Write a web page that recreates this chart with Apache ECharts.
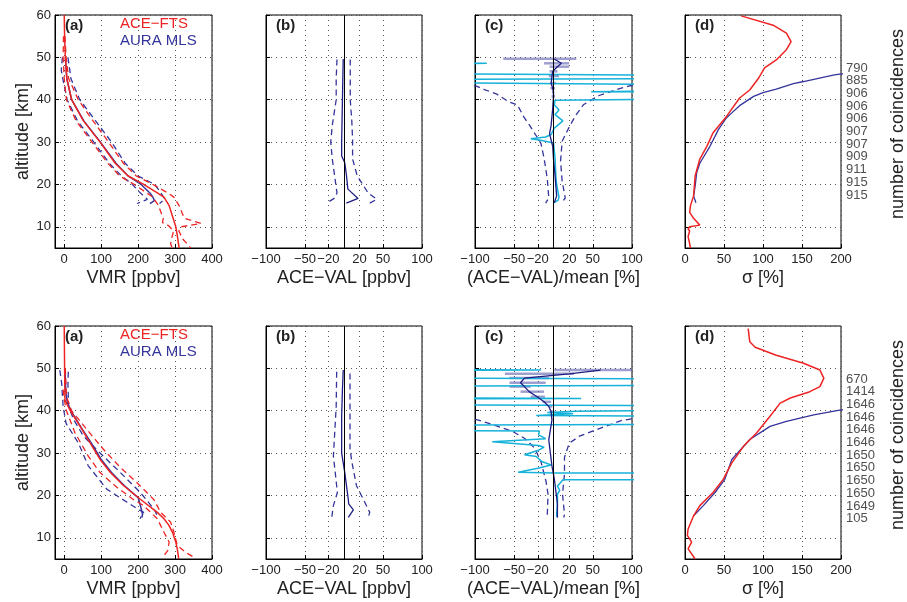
<!DOCTYPE html>
<html><head><meta charset="utf-8">
<script src="https://cdn.jsdelivr.net/npm/echarts@6/dist/echarts.min.js"></script>
<style>html,body{margin:0;padding:0;background:#fff}#c{width:907px;height:602px}</style>
</head><body><div id="c"></div>
<script>
// ---------- tick labels ----------
const altTicks = [10, 20, 30, 40, 50, 60];
const vmrTicks = [0, 100, 200, 300, 400];
const diffTicks = [-100, -50, -20, 20, 50, 100];
const sigmaTicks = [0, 50, 100, 150, 200];

// ---------- number of coincidences ----------
const coincAltTop = [47.5, 44.5, 41.5, 38.5, 35.5, 32.5, 29.5, 26.5, 23.5, 20.5, 17.5];
const coincTop = ['790', '885', '906', '906', '906', '907', '907', '909', '911', '915', '915'];
const coincAltBot = [47.5, 44.5, 41.5, 38.5, 35.5, 32.5, 29.5, 26.5, 23.5, 20.5, 17.5, 14.5];
const coincBot = ['670', '1414', '1646', '1646', '1646', '1646', '1650', '1650', '1650', '1650', '1649', '105'];

// ---------- TOP ROW : [value, altitude] ----------
// (a) VMR
const topAceMean = [[0,60],[1,55],[3,50],[7,45],[20,40],[52,35],[97,30],[138,25],[173,22],[215,20],[252,18],[270,17],[284,15],[293,12.5],[302,10],[306,8],[311,5]];
const topAceLo = [[-2,55],[-3,50],[0,45],[6,40],[32,35],[75,30],[118,25],[150,22],[190,20],[240,17],[255,15],[268,12],[266,11],[282,10.3],[296,9],[290,7],[288,6],[292,5]];
const topAceHi = [[2,55],[5,50],[12,45],[38,40],[78,35],[120,30],[160,25],[195,22],[240,20],[280,18],[297,17],[311,15],[325,12],[370,10.8],[316,10],[310,9],[322,7],[338,5.5],[342,5]];
const topMlsMean = [[3,50],[7,45],[20,40],[53,35],[98,30],[140,25],[173,22],[208,20],[232,18],[240,17],[244,16.2],[232,15.5]];
const topMlsLo = [[-5,50],[-8,47],[-4,45],[8,40],[36,35],[80,30],[122,25],[155,22],[185,20],[200,18.5],[225,16.5],[197,15.5]];
const topMlsHi = [[10,50],[15,47],[18,45],[42,40],[85,35],[128,30],[165,25],[200,22],[245,20],[262,18],[272,16.5],[258,15.5]];
// (b) ACE-VAL
const topDiff = [[-1,49.6],[-1.5,45],[-2,40],[-2.5,35],[-3,30],[-3,26.7],[1,25.1],[3,22.4],[5,18.9],[18,16.7],[3,15.6]];
const topDiffLo = [[-9,49.5],[-10,45],[-10,40],[-15,34],[-17,30],[-15,26],[-12,22],[-9,18],[-12,16.8],[-22,15.6]];
const topDiffHi = [[8,49.5],[8,45],[8,40],[10,35],[11,30.6],[11,26],[17,22],[31,18],[42,16.5],[33,15.6]];
// (c) relative difference
const topRel = [[1,49.6],[10,48.6],[5,47.8],[-1,46.7],[-2,45.5],[-3,43.9],[-1,42.7],[0,41.7],[0,40.8],[-1,38],[-2,36],[-3,34],[-5,32],[-3,30.5],[-1,29],[0,26],[2,22],[3,19.6],[4,17.3],[1,15.7]];
const topRelErr = [[49.65,-64,29],[48.6,-12,20],[47.8,-5,20],[46.7,-5,5],[45.6,-6,7],[43.9,-4,3],[42.7,-4,2],[41.7,-2,1],[40.8,-2.5,2]];
const topRelAlt = [[-300,49.0],[-85,48.6],[-300,48.2],[-300,46.3],[300,45.6],[300,45.1],[-300,44.7],[-300,44.2],[300,43.4],[300,42.3],[48,41.9],[300,41.6],[300,40.3],[2,39.9],[1,38.8],[7,37.6],[2,36.5],[12,35.0],[1,33.3],[-3,31.8],[-10,31.2],[-29,30.8],[-18,30.5],[0,29.8],[1,28],[2,26],[3,22],[4,20],[7,17],[6,16.3],[1,15.7]];
const topRelLo = [[-250,49.5],[-160,45],[-98,43.2],[-88,42.4],[-73,41.4],[-57,39.5],[-46,38.8],[-38,36],[-31,34.1],[-22,31.5],[-16,29.7],[-12,26.2],[-8,21.5],[-6,16.8],[-10,15.6]];
const topRelHi = [[250,49.5],[160,45],[98,43.3],[82,42.5],[58,41],[47,39.8],[38,38.8],[29,36.5],[21.5,34.1],[11,30.2],[9,25.5],[11,20.8],[15,16.8],[10,15.6]];
// (d) sigma
const topAceSig = [[72,59.8],[113,57.6],[130,55.7],[136,53.7],[130,51.8],[117,49.4],[102,47.5],[94,45],[83,42.3],[70,40.4],[53,36],[36,32.2],[28,29],[19,26],[13,22],[11,17.3],[7,15],[6,13.4],[11,12],[19,10.4],[6,10],[4,9.5],[6,9],[4,7.7],[6,6],[7,5]];
const topMlsSig = [[260,46.6],[200,46.1],[190,45.8],[152,44.3],[139,43.8],[117,42.5],[100,41.7],[88,40.8],[70,38.6],[60,36.9],[53,35.7],[43,33],[32,29],[19,25],[15,22.8],[13,19.6],[11,17.3],[14,15.7]];

// ---------- BOTTOM ROW ----------
const botAceMean = [[0,60],[1,50],[2,42.6],[15,40.2],[43,36.3],[70,32.4],[97,28.5],[125,25.4],[161,22.3],[206,19.1],[252,16],[270,14.5],[283,13],[293,11.3],[302,9],[306,7.4],[310,5]];
const botAceLo = [[-3,45],[0,42.6],[6,40],[29,34.8],[65,29.3],[97,25.4],[143,21.9],[188,19],[215,17.6],[252,14.5],[270,11.3],[284,9],[280,7],[265,5.2]];
const botAceHi = [[3,50],[6,43.4],[20,40],[61,35.6],[106,30.9],[152,26.6],[197,23],[243,19],[261,16],[288,13.7],[297,11.3],[306,8.2],[330,6.5],[355,5.2]];
const botMlsMean = [[2,50],[4,45],[8,42],[18,40],[46,36],[73,32.4],[100,28.5],[128,25.4],[163,22.3],[200,19.5],[208,17],[212,15.5],[210,14.8]];
const botMlsLo = [[-12,49.6],[-7,46.5],[-3,41],[5,37],[38,32.4],[65,27],[115,21.5],[170,18.4],[195,17],[215,16],[205,14.5]];
const botMlsHi = [[11,49.2],[10,46],[12,41],[25,38],[52,34],[97,30],[152,25.4],[206,20.7],[243,16.8],[250,15.6],[240,14.8]];
const botDiff = [[-1,49.6],[-2,45],[-3,38.7],[-3,30],[1,25.4],[5.5,19.1],[6,18],[12,16.6],[5.5,14.8]];
const botDiffLo = [[-9.4,49.2],[-10,41],[-13.6,29.3],[-11,25],[-8.5,20.7],[-13.6,17.6],[-15.7,14.8]];
const botDiffHi = [[7.7,48.8],[7.7,40],[7.7,31],[10,28],[16,22.3],[24.7,19.1],[33,16],[31,14.8]];
const botRel = [[60,49.6],[20,48.7],[-37,47.7],[-42,46.6],[-37,45.7],[-31,44.5],[-21,43.3],[-12,42.1],[-6,41],[-3,39.8],[-2,37.8],[-4,35.5],[-6,33.1],[-4,30],[-2,27],[1,24],[3,21],[5,18],[5,14.8]];
const botRelErr = [[49.6,1,100],[48.7,-62,26],[47.7,-56,-6],[46.6,-56,-10],[45.7,-56,-29],[44.5,-42,-12],[43.3,-29,-11],[42.1,-14,-3],[41,-6,-1.5],[39.8,-5,1]];
const botRelAlt = [[-400,49.8],[-16,49.6],[-400,49.4],[-400,47.9],[400,47.3],[400,46.2],[-400,45.6],[-400,43.3],[35,42.9],[-400,42.6],[-400,41.6],[400,41.0],[400,40.3],[30,39.9],[-8,39.6],[25,39.3],[-22,38.9],[400,38.5],[400,37.0],[-400,36.4],[-400,35.6],[-18,35.2],[-19,34.3],[-10,33.4],[-78,32.7],[-19,31.8],[-12,31.4],[-20,30.6],[-37,29.6],[-22,29.2],[-15,28.0],[-3,27.2],[-20,26.4],[-45,25.5],[1,25.3],[400,25.2],[400,23.8],[12,23.7],[8,22.8],[5,22.2],[8,21.2],[5,20.3],[5,18],[4,15.3],[5,14.8]];
const botRelLo = [[-300,45],[-150,40],[-98,37.9],[-77,36.7],[-53,35.2],[-37,33.5],[-24,31.2],[-16,28],[-9.5,23.3],[-7,20.3],[-8,14.8]];
const botRelHi = [[300,45],[150,39.5],[87,37.7],[60,35.9],[33,34],[20,32.3],[14,29],[14,25],[11.5,20.3],[14,15.5],[13,14.8]];
const botAceSig = [[81,59.4],[83,56.3],[90,55],[117,53.1],[152,51.2],[173,49.6],[178,47.7],[173,45.7],[160,44.5],[135,43],[122,41.8],[109,38.7],[92,34.8],[75,31.6],[60,27.7],[49,23.8],[36,20.7],[19,17.6],[11,15.2],[4,12.1],[3,10.6],[8.5,9],[4,7.4],[13,5]];
const botMlsSig = [[260,40.6],[200,40.2],[165,39],[130,37.5],[109,36.3],[83,33.2],[60,28.5],[51,23.8],[38.5,20.7],[23.5,17.6],[11,15.2]];

// ---------- styling ----------
const FONT = '"Liberation Sans", Arial, Helvetica, sans-serif';
const RED = '#ee2424', BLUE = '#34349c', NAVY = '#1e1e84', CYAN = '#16b2da', ERR = 'rgba(95,95,175,0.6)';
const TXT = '#222';
const rowTop = [15, 326];
const colLeft = [55, 266, 475, 685];
const colW = [157, 156, 157, 156];
const panelH = 233;
const fmtMinus = v => (v < 0 ? '\u2212' + Math.abs(v) : String(v));

const grids = [], xAxes = [], yAxes = [];
const xCfg = [
  {min: -25, max: 400, ticks: vmrTicks, name: 'VMR [ppbv]'},
  {min: -100, max: 100, ticks: diffTicks, name: 'ACE\u2212VAL [ppbv]'},
  {min: -100, max: 100, ticks: diffTicks, name: '(ACE\u2212VAL)/mean [%]'},
  {min: 0, max: 200, ticks: sigmaTicks, name: '\u03c3 [%]'}
];
const dotted = {show: true, lineStyle: {color: '#555', width: 1, type: [1, 4]}};
for (let r = 0; r < 2; r++) {
  for (let c = 0; c < 4; c++) {
    const gi = r * 4 + c;
    grids.push({left: colLeft[c], top: rowTop[r], width: colW[c], height: panelH,
      show: true, borderColor: '#000', borderWidth: 1, containLabel: false, outerBoundsMode: 'none'});
    const xc = xCfg[c];
    xAxes.push({gridIndex: gi, type: 'value', min: xc.min, max: xc.max,
      name: xc.name, nameLocation: 'middle', nameGap: 21,
      nameTextStyle: {fontSize: 18, color: TXT, fontFamily: FONT},
      axisLine: {show: true, onZero: false, lineStyle: {color: '#000', width: 1}},
      axisTick: {show: true, inside: true, length: 4, customValues: xc.ticks, lineStyle: {color: '#000'}},
      axisLabel: {customValues: xc.ticks, formatter: fmtMinus, fontSize: 13, color: TXT, fontFamily: FONT, margin: 5},
      splitLine: dotted});
    yAxes.push({gridIndex: gi, type: 'value', min: 5, max: 60,
      name: c === 0 ? 'altitude [km]' : '', nameLocation: 'middle', nameGap: 23,
      nameTextStyle: {fontSize: 18, color: TXT, fontFamily: FONT},
      axisLine: {show: true, onZero: false, lineStyle: {color: '#000', width: 1}},
      axisTick: {show: true, inside: true, length: 4, customValues: altTicks, lineStyle: {color: '#000'}},
      axisLabel: {show: c === 0, customValues: altTicks, fontSize: 13, color: TXT, fontFamily: FONT, margin: 4},
      splitLine: dotted});
  }
}

const series = [];
function line(i, data, color, dashed, width, extra) {
  const s = {type: 'line', xAxisIndex: i, yAxisIndex: i, data: data, showSymbol: false, symbol: 'none',
    clip: true, silent: true, lineStyle: {color: color, width: width || 1.3, type: dashed ? [6, 4] : 'solid'}};
  if (extra) Object.assign(s, extra);
  series.push(s);
}
const zeroLine = {markLine: {silent: true, symbol: ['none', 'none'], label: {show: false},
  lineStyle: {color: '#000', type: 'solid', width: 1}, data: [{xAxis: 0}]}};
function errBars(i, data) {
  series.push({type: 'custom', xAxisIndex: i, yAxisIndex: i, data: data, silent: true, clip: true,
    encode: {x: [1, 2], y: 0},
    renderItem: function (params, api) {
      const a = api.coord([api.value(1), api.value(0)]);
      const b = api.coord([api.value(2), api.value(0)]);
      return {type: 'line', shape: {x1: a[0], y1: a[1], x2: b[0], y2: b[1]}, style: {stroke: ERR, lineWidth: 2.5}};
    }});
}
function coinc(i, alts, labels) {
  series.push({type: 'scatter', xAxisIndex: i, yAxisIndex: i, symbolSize: 0, clip: false, silent: true,
    data: alts.map((a, k) => ({value: [200, a], name: labels[k]})),
    label: {show: true, position: 'right', distance: 5, formatter: '{b}', fontSize: 13, color: TXT, fontFamily: FONT}});
}

const rows = [
  {a: [topAceMean, topAceLo, topAceHi, topMlsMean, topMlsLo, topMlsHi],
   b: [topDiff, topDiffLo, topDiffHi],
   c: [topRel, topRelErr, topRelAlt, topRelLo, topRelHi],
   d: [topAceSig, topMlsSig], ca: coincAltTop, cl: coincTop},
  {a: [botAceMean, botAceLo, botAceHi, botMlsMean, botMlsLo, botMlsHi],
   b: [botDiff, botDiffLo, botDiffHi],
   c: [botRel, botRelErr, botRelAlt, botRelLo, botRelHi],
   d: [botAceSig, botMlsSig], ca: coincAltBot, cl: coincBot}
];
rows.forEach((R, r) => {
  const o = r * 4;
  // (a)
  line(o, R.a[4], BLUE, true);
  line(o, R.a[5], BLUE, true);
  line(o, R.a[3], BLUE, false, 1.5);
  line(o, R.a[1], RED, true);
  line(o, R.a[2], RED, true);
  line(o, R.a[0], RED, false, 1.5);
  // (b)
  line(o + 1, R.b[1], BLUE, true, 1.3, zeroLine);
  line(o + 1, R.b[2], BLUE, true);
  line(o + 1, R.b[0], NAVY, false, 1.3);
  // (c)
  line(o + 2, R.c[3], BLUE, true, 1.3, zeroLine);
  line(o + 2, R.c[4], BLUE, true);
  line(o + 2, R.c[2], CYAN, false, 1.5);
  errBars(o + 2, R.c[1]);
  line(o + 2, R.c[0], NAVY, false, 1.3);
  // (d)
  line(o + 3, R.d[1], BLUE, false, 1.3);
  line(o + 3, R.d[0], RED, false, 1.5);
  coinc(o + 3, R.ca, R.cl);
});

// ---------- texts ----------
const graphic = [];
const tags = ['(a)', '(b)', '(c)', '(d)'];
rowTop.forEach(t => {
  tags.forEach((tg, c) => {
    graphic.push({type: 'text', x: colLeft[c] + 10, y: t + 11, silent: true,
      style: {text: tg, fontSize: 15, fontWeight: 'bold', fill: TXT, font: 'bold 15px ' + FONT, verticalAlign: 'middle'}});
  });
  graphic.push({type: 'text', x: 120, y: t + 9, silent: true,
    style: {text: 'ACE\u2212FTS', font: '15px ' + FONT, fill: RED, verticalAlign: 'middle'}});
  graphic.push({type: 'text', x: 120, y: t + 26, silent: true,
    style: {text: 'AURA MLS', font: '15px ' + FONT, fill: BLUE, verticalAlign: 'middle'}});
  graphic.push({type: 'text', x: 898, y: t + 109, rotation: Math.PI / 2, silent: true,
    style: {text: 'number of coincidences', font: '18px ' + FONT, fill: TXT, align: 'center', verticalAlign: 'middle'}});
});

const chart = echarts.init(document.getElementById('c'));
chart.setOption({
  animation: false,
  backgroundColor: '#fff',
  grid: grids, xAxis: xAxes, yAxis: yAxes, series: series, graphic: graphic
});
</script></body></html>
